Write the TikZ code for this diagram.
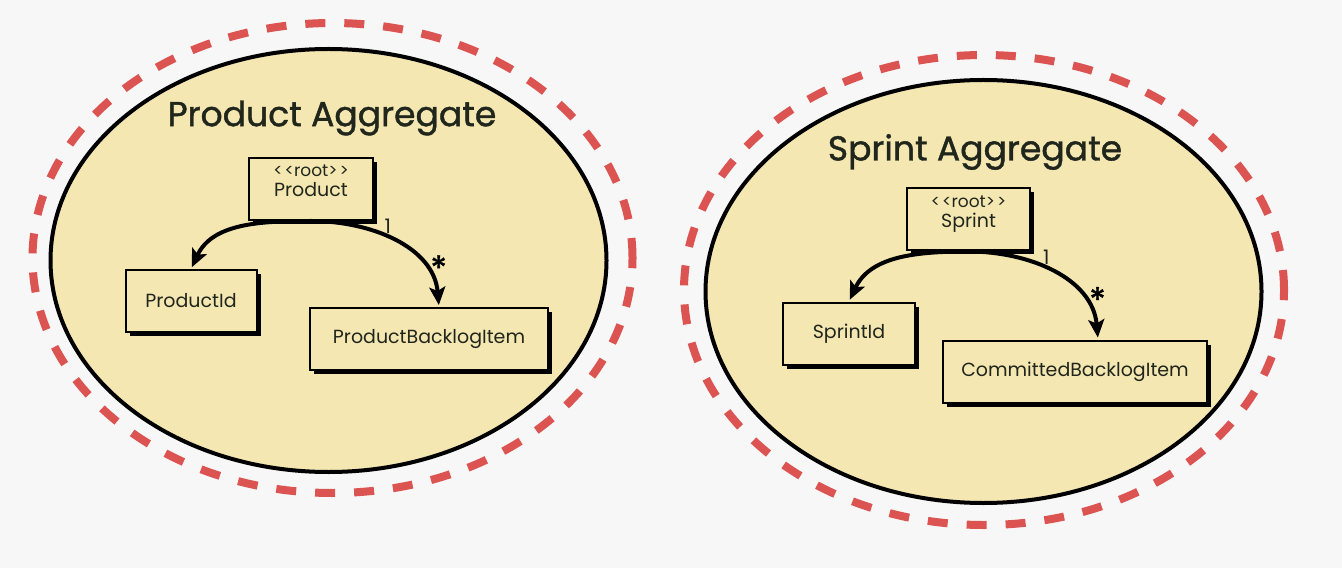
\documentclass[tikz,border=0pt]{standalone}
\usepackage{fontspec}
\newfontfamily\umlfont{Poppins}
\newfontfamily\titlefont{Poppins}[FakeBold=1.2]
\usepackage{tikz}
\usetikzlibrary{shapes,shadows,arrows,arrows.meta}
\definecolor{aggfill}{RGB}{245,231,178}
\definecolor{aggred}{RGB}{219,84,82}
\definecolor{bgcol}{RGB}{247,247,247}
\definecolor{ink}{RGB}{32,38,28}
\tikzstyle{line} = [draw, -{Stealth[length=9pt, width=8pt, inset=2pt]}, line width=2pt, shorten >=1pt]
\tikzstyle{agg_bound} = [ellipse, draw=aggred, line width=4pt, dash pattern=on 10pt off 9.5pt, minimum width=300pt, minimum height=235pt]
\tikzstyle{agg_in} = [ellipse, draw, fill=aggfill, line width=2pt, minimum width=278pt, minimum height=211.5pt]
\tikzstyle{agg_title} = [text=ink, font=\titlefont\fontsize{17.3}{19}\selectfont]
\tikzstyle{ent} = [rectangle, draw, fill=aggfill, line width=1pt, minimum height=31pt, text centered, text=ink, font=\umlfont\fontsize{9.5}{10.5}\selectfont, drop shadow={shadow xshift=2pt, shadow yshift=-2pt, fill=black, opacity=1}]
\tikzstyle{mult} = [text=ink, font=\umlfont\fontsize{10}{11}\selectfont, inner sep=1pt]
\tikzstyle{many} = [text=black, font=\titlefont\fontsize{17}{17}\selectfont, inner sep=1pt]
\newcommand{\rootname}[1]{\shortstack{{\fontsize{8.5}{9}\selectfont <\kern1pt<root>\kern1pt>}\\#1}\rule[-8pt]{0pt}{8pt}}

\begin{document}
\begin{tikzpicture}[x=1pt, y=1pt]
		\useasboundingbox[fill=bgcol] (0,0) rectangle (671,284);
		
		% product aggregate
		\node[agg_bound] (prod_bound) at (166.25,155) {};
		\node[agg_in] (prod_agg) at (164.25,153.75) {};
		\node[agg_title] (prod_title) at (166,225) {Product Aggregate};
		
		\node[ent, below of=prod_title, node distance=35.5pt, xshift=-10.5pt, minimum width=62pt] (prod_root) {\rootname{Product}};
		\node[ent, below of=prod_root, node distance=56pt, xshift=-60pt, minimum width=65.5pt] (prod_id) {ProductId};
		\node[ent, below of=prod_root, node distance=75pt, xshift=59pt, minimum width=119pt] (prod_item) {ProductBacklogItem};
		
		\path [line] (prod_root.south) to [out=180, in=65] (prod_id.north);
		\path [line] (prod_root.south) to [out=0, in=95] node [mult, pos=0.4, anchor=south west, xshift=0pt, yshift=-2pt] {1} node [many, pos=0.7, anchor=west, xshift=3pt, yshift=-3pt] {*} ([xshift=5pt]prod_item.north);
		
		% sprint aggregate
		\node[agg_bound] (spr_bound) at (492,139) {};
		\node[agg_in] (spr_agg) at (491.75,138.25) {};
		\node[agg_title] (spr_title) at (487.5,208) {Sprint Aggregate};
		
		\node[ent, below of=spr_title, node distance=33.75pt, xshift=-3.25pt, minimum width=61.5pt] (spr_root) {\rootname{Sprint}};
		\node[ent, below of=spr_root, node distance=57pt, xshift=-59.75pt, minimum width=66pt] (spr_id) {SprintId};
		\node[ent, below of=spr_root, node distance=76pt, xshift=53.25pt, minimum width=132pt] (spr_item) {CommittedBacklogItem};
		
		\path [line] (spr_root.south) to [out=180, in=65] (spr_id.north);
		\path [line] (spr_root.south) to [out=0, in=95] node [mult, pos=0.4, anchor=south west, xshift=0pt, yshift=-2pt] {1} node [many, pos=0.7, anchor=west, xshift=3pt, yshift=-3pt] {*} ([xshift=11.5pt]spr_item.north);
	\end{tikzpicture}
\end{document}
